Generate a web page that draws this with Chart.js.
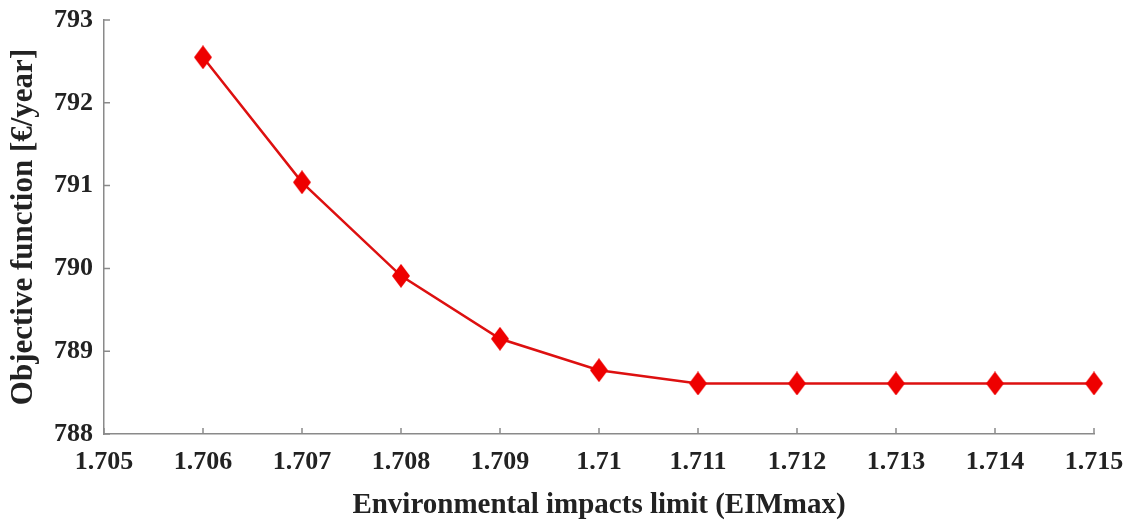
<!DOCTYPE html>
<html>
<head>
<meta charset="utf-8">
<script src="https://cdn.jsdelivr.net/npm/chart.js@4.4.1/dist/chart.umd.min.js"></script>
<style>
  html, body { margin: 0; padding: 0; background: #ffffff; }
  #wrap { width: 1132px; height: 525px; position: relative; }
</style>
</head>
<body>
<div id="wrap"><canvas id="c" width="1132" height="525"></canvas></div>
<script>
// ---- data ----
const eimLimits = [1.706, 1.707, 1.708, 1.709, 1.710, 1.711, 1.712, 1.713, 1.714, 1.715];
const objectiveValues = [792.55, 791.04, 789.91, 789.15, 788.77, 788.61, 788.61, 788.61, 788.61, 788.61];
const xTickValues = [1.705, 1.706, 1.707, 1.708, 1.709, 1.710, 1.711, 1.712, 1.713, 1.714, 1.715];
const yTickValues = [788, 789, 790, 791, 792, 793];
const xTitle = 'Environmental impacts limit (EIMmax)';
const yTitle = 'Objective function [€/year]';

// diamond marker
function makeDiamond(w, h, color) {
  const cv = document.createElement('canvas');
  cv.width = w; cv.height = h;
  const g = cv.getContext('2d');
  g.fillStyle = color;
  g.beginPath();
  g.moveTo(w / 2, 0);
  g.lineTo(w, h / 2);
  g.lineTo(w / 2, h);
  g.lineTo(0, h / 2);
  g.closePath();
  g.fill();
  return cv;
}
const diamond = makeDiamond(18, 24, '#ee0000');

const axisColor = '#8a8a8a';
const fontFam = '"Liberation Serif", "Times New Roman", serif';

const inwardTicks = {
  id: 'inwardTicks',
  afterDraw(chart) {
    const ctx = chart.ctx;
    const xs = chart.scales.x, ys = chart.scales.y;
    const len = 6;
    ctx.save();
    ctx.strokeStyle = axisColor;
    ctx.lineWidth = 1.5;
    ctx.beginPath();
    xTickValues.forEach(v => {
      const px = xs.getPixelForValue(v);
      ctx.moveTo(px, ys.bottom);
      ctx.lineTo(px, ys.bottom - len);
    });
    yTickValues.forEach(v => {
      const py = ys.getPixelForValue(v);
      ctx.moveTo(xs.left, py);
      ctx.lineTo(xs.left + len, py);
    });
    ctx.stroke();
    ctx.restore();
  }
};

new Chart(document.getElementById('c'), {
  type: 'line',
  data: {
    datasets: [{
      data: eimLimits.map((x, i) => ({ x: x, y: objectiveValues[i] })),
      borderColor: '#dd1010',
      borderWidth: 2.5,
      backgroundColor: '#ee0000',
      pointStyle: diamond,
      tension: 0,
      fill: false,
      clip: false
    }]
  },
  options: {
    responsive: false,
    animation: false,
    layout: { padding: { left: 0, right: 38, top: 20, bottom: 0 } },
    plugins: { legend: { display: false }, tooltip: { enabled: false } },
    scales: {
      x: {
        type: 'linear',
        min: 1.705,
        max: 1.715,
        afterBuildTicks(scale) { scale.ticks = xTickValues.map(v => ({ value: v })); },
        afterFit(scale) { scale.height = 91; scale.paddingLeft = 0; scale.paddingRight = 0; },
        grid: { display: false, drawTicks: false },
        border: { display: true, color: axisColor, width: 1.5 },
        ticks: {
          color: '#222',
          padding: 13,
          maxRotation: 0,
          autoSkip: false,
          font: { family: fontFam, size: 26, weight: 'bold' },
          callback: v => String(Number(v.toFixed(3)))
        },
        title: {
          display: true,
          text: xTitle,
          color: '#222',
          padding: { top: 6, bottom: 2 },
          font: { family: fontFam, size: 29, weight: 'bold' }
        }
      },
      y: {
        type: 'linear',
        min: 788,
        max: 793,
        afterBuildTicks(scale) { scale.ticks = yTickValues.map(v => ({ value: v })); },
        afterFit(scale) { scale.width = 104; scale.paddingTop = 0; scale.paddingBottom = 0; },
        grid: { display: false, drawTicks: false },
        border: { display: true, color: axisColor, width: 1.5 },
        ticks: {
          color: '#222',
          padding: 11,
          autoSkip: false,
          font: { family: fontFam, size: 26, weight: 'bold' },
          callback: v => String(v)
        },
        title: {
          display: true,
          text: yTitle,
          color: '#222',
          padding: { top: 5, bottom: 4 },
          font: { family: fontFam, size: 31, weight: 'bold' }
        }
      }
    }
  },
  plugins: [inwardTicks]
});
</script>
</body>
</html>
